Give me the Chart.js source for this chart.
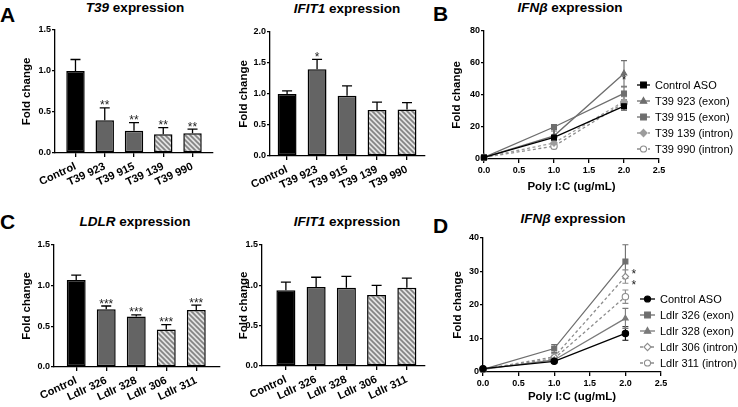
<!DOCTYPE html>
<html>
<head>
<meta charset="utf-8">
<script src="https://cdn.jsdelivr.net/npm/chart.js@4.4.1/dist/chart.umd.min.js"></script>
<style>
  body { margin: 0; background: #fff; }
  #fig { position: relative; width: 738px; height: 407px; overflow: hidden; font-family: "Liberation Sans", Arial, sans-serif; color: #000; }
  canvas { position: absolute; }
  .ttl { position: absolute; font-size: 13.5px; font-weight: bold; line-height: 16px; white-space: nowrap; transform: translateX(-50%); }
  .lt { position: absolute; font-size: 21px; font-weight: bold; line-height: 21px; }
</style>
</head>
<body>
<div id="fig">
  <div class="lt" style="left:0;top:4px">A</div>
  <div class="lt" style="left:433px;top:3px">B</div>
  <div class="lt" style="left:0;top:211px">C</div>
  <div class="lt" style="left:433px;top:215px">D</div>

  <div class="ttl" style="left:135px;top:0"><i>T39</i> expression</div>
  <div class="ttl" style="left:347px;top:1px"><i>IFIT1</i> expression</div>
  <div class="ttl" style="left:570px;top:0"><i>IFNβ</i> expression</div>
  <div class="ttl" style="left:135px;top:214px"><i>LDLR</i> expression</div>
  <div class="ttl" style="left:347px;top:214px"><i>IFIT1</i> expression</div>
  <div class="ttl" style="left:573px;top:211px"><i>IFNβ</i> expression</div>

  <canvas id="a1" width="226" height="190" style="left:0;top:20px"></canvas>
  <canvas id="a2" width="207" height="190" style="left:226px;top:20px"></canvas>
  <canvas id="b" width="293" height="185" style="left:445px;top:20px"></canvas>
  <canvas id="c1" width="226" height="172" style="left:0;top:235px"></canvas>
  <canvas id="c2" width="207" height="172" style="left:226px;top:235px"></canvas>
  <canvas id="d" width="293" height="179" style="left:445px;top:228px"></canvas>
</div>
<script>
// --- A: T39 knockdown ---
const t39Labels = ['Control', 'T39 923', 'T39 915', 'T39 139', 'T39 990'];
const t39Fold = [1.00, 0.40, 0.27, 0.23, 0.24];
const t39FoldErr = [0.14, 0.15, 0.10, 0.08, 0.05];
const t39FoldStars = ['', '**', '**', '**', '**'];
const t39Ifit1 = [1.00, 1.40, 0.97, 0.74, 0.75];
const t39Ifit1Err = [0.05, 0.16, 0.16, 0.13, 0.11];
const t39Ifit1Stars = ['', '*', '', '', ''];

// --- C: LDLR knockdown ---
const ldlrLabels = ['Control', 'Ldlr 326', 'Ldlr 328', 'Ldlr 306', 'Ldlr 311'];
const ldlrFold = [1.07, 0.71, 0.62, 0.46, 0.70];
const ldlrFoldErr = [0.06, 0.04, 0.02, 0.06, 0.06];
const ldlrFoldStars = ['', '***', '***', '***', '***'];
const ldlrIfit1 = [0.94, 0.98, 0.97, 0.88, 0.97];
const ldlrIfit1Err = [0.10, 0.12, 0.14, 0.12, 0.12];
const ldlrIfit1Stars = ['', '', '', '', ''];

// --- B / D: IFNb vs poly I:C ---
const polyIC = [0, 1, 2];

const bNames = ['Control ASO', 'T39 923 (exon)', 'T39 915 (exon)', 'T39 139 (intron)', 'T39 990 (intron)'];
const bValues = [
  [1, 13.5, 33],
  [1, 14.5, 53.5],
  [1, 20, 41],
  [1, 10, 36],
  [1, 8, 35]
];
const bErrors = [
  [0.3, 6, 2.5],
  [0.3, 3, 8],
  [0.3, 1.5, 4],
  [0.3, 2, 3],
  [0.3, 1.5, 4.5]
];
const bStars = [[], [], ['', '', '*'], [], []];
const bStarAt = [[], [], [], [], []];

const dNames = ['Control ASO', 'Ldlr 326 (exon)', 'Ldlr 328 (exon)', 'Ldlr 306 (intron)', 'Ldlr 311 (intron)'];
const dValues = [
  [1, 3.2, 11.5],
  [0.8, 7, 33],
  [0.8, 3.6, 16],
  [0.8, 4.5, 28.5],
  [0.8, 4, 22.5]
];
const dErrors = [
  [0.3, 0.5, 2],
  [0.3, 1.2, 5],
  [0.3, 0.5, 3],
  [0.3, 1, 2],
  [0.3, 1, 2]
];
const dStars = [[], [], [], ['', '', '*'], ['', '', '*']];
const dStarAt = [[], [], [], [null, null, 29.8], [null, null, 26.6]];

Chart.defaults.font.family = '"Liberation Sans", Arial, sans-serif';
Chart.defaults.color = '#000';

function hatch() {
  const c = document.createElement('canvas');
  c.width = 5; c.height = 5;
  const g = c.getContext('2d');
  g.fillStyle = '#e2e2e2';
  g.fillRect(0, 0, 5, 5);
  g.strokeStyle = '#838383';
  g.lineWidth = 1.7;
  g.beginPath();
  g.moveTo(-1, -1); g.lineTo(6, 6);
  g.moveTo(-6, -1); g.lineTo(1, 6);
  g.moveTo(4, -1); g.lineTo(11, 6);
  g.stroke();
  return g.createPattern(c, 'repeat');
}
const stripes = hatch();
const barFills = ['#000', '#646464', '#646464', stripes, stripes];

function marker(ctx, style, x, y, r, fill, stroke) {
  ctx.beginPath();
  if (style === 'rect') {
    ctx.rect(x - r * 0.8, y - r * 0.8, r * 1.6, r * 1.6);
  } else if (style === 'rectRot') {
    ctx.moveTo(x, y - r); ctx.lineTo(x + r, y); ctx.lineTo(x, y + r); ctx.lineTo(x - r, y); ctx.closePath();
  } else if (style === 'triangle') {
    ctx.moveTo(x, y - r); ctx.lineTo(x + r * 0.9, y + r * 0.6); ctx.lineTo(x - r * 0.9, y + r * 0.6); ctx.closePath();
  } else {
    ctx.arc(x, y, r * 0.85, 0, Math.PI * 2);
  }
  ctx.fillStyle = fill; ctx.fill();
  ctx.lineWidth = 1.1; ctx.strokeStyle = stroke; ctx.stroke();
}

// error bars + significance stars
function drawErrors(chart, isLine) {
  const ctx = chart.ctx, ys = chart.scales.y;
  chart.data.datasets.forEach((ds, i) => {
    if (!ds.errors) return;
    const meta = chart.getDatasetMeta(i);
    meta.data.forEach((el, j) => {
      const v = ds.data[j].y, e = ds.errors[j];
      const top = ys.getPixelForValue(v + e);
      const bot = isLine ? ys.getPixelForValue(v - e) : el.y;
      const w = isLine ? 3 : 5;
      ctx.save();
      ctx.strokeStyle = isLine ? ds.borderColor : '#000';
      ctx.lineWidth = isLine ? 1.1 : 1.3;
      ctx.beginPath();
      ctx.moveTo(el.x, bot); ctx.lineTo(el.x, top);
      ctx.moveTo(el.x - w, top); ctx.lineTo(el.x + w, top);
      if (isLine) { ctx.moveTo(el.x - w, bot); ctx.lineTo(el.x + w, bot); }
      ctx.stroke();
      ctx.restore();
    });
  });
}
function drawStars(chart, isLine) {
  const ctx = chart.ctx, ys = chart.scales.y;
  chart.data.datasets.forEach((ds, i) => {
    if (!ds.stars) return;
    const meta = chart.getDatasetMeta(i);
    meta.data.forEach((el, j) => {
      const s = ds.stars[j];
      if (!s) return;
      ctx.save();
      ctx.fillStyle = '#222';
      ctx.font = '12px "Liberation Sans", Arial, sans-serif';
      ctx.textBaseline = 'alphabetic';
      if (ds.starAt && ds.starAt[j] != null) {
        ctx.textAlign = 'left';
        ctx.fillText(s, el.x + 6, ys.getPixelForValue(ds.starAt[j]) + 6);
      } else {
        ctx.textAlign = 'center';
        const top = ys.getPixelForValue(ds.data[j].y + ds.errors[j]);
        ctx.fillText(s, el.x, top + (isLine ? -3 : 1.5));
      }
      ctx.restore();
    });
  });
}
const errorBars = {
  id: 'errorBars',
  beforeDatasetsDraw(chart) {
    if (chart.config.type === 'line') drawErrors(chart, true);
  },
  afterDatasetsDraw(chart) {
    const isLine = chart.config.type === 'line';
    if (!isLine) drawErrors(chart, false);
    drawStars(chart, isLine);
  }
};

const sideLegend = {
  id: 'sideLegend',
  afterDraw(chart, args, o) {
    if (!o || o.x == null) return;
    const ctx = chart.ctx;
    chart.data.datasets.forEach((ds, i) => {
      const y = o.y + i * o.gap;
      ctx.save();
      ctx.strokeStyle = ds.borderColor;
      ctx.lineWidth = 1.3;
      ctx.setLineDash(ds.borderDash || []);
      ctx.beginPath(); ctx.moveTo(o.x, y); ctx.lineTo(o.x + o.len, y); ctx.stroke();
      ctx.setLineDash([]);
      marker(ctx, ds.pointStyle, o.x + o.len / 2, y, 3.6, ds.pointBackgroundColor, ds.borderColor);
      ctx.fillStyle = '#000';
      ctx.font = '11px "Liberation Sans", Arial, sans-serif';
      ctx.textBaseline = 'middle';
      ctx.fillText(ds.label, o.x + o.len + o.tgap, y + 0.5);
      ctx.restore();
    });
  }
};

const axisGrid = { display: true, drawOnChartArea: false, drawTicks: true, tickLength: 3, color: '#000', lineWidth: 1.3 };
const axisBorder = { display: true, color: '#000', width: 1.3 };
const tickFont = { size: 9, weight: 'bold' };
const axisTitleFont = { size: 11.5, weight: 'bold' };

function barPanel(id, labels, vals, errs, stars, yMax, p) {
  return new Chart(document.getElementById(id), {
    type: 'bar',
    data: {
      datasets: [{
        data: vals.map((v, i) => ({ x: i, y: v })),
        errors: errs,
        stars: stars,
        backgroundColor: barFills,
        borderColor: '#000',
        borderWidth: 1.5,
        borderSkipped: false,
        barPercentage: 0.63,
        categoryPercentage: 1
      }]
    },
    options: {
      responsive: false,
      animation: false,
      devicePixelRatio: 1,
      layout: { padding: { top: p.top, right: p.right, left: 0, bottom: 0 } },
      plugins: { legend: { display: false }, tooltip: { enabled: false } },
      scales: {
        x: {
          type: 'linear', min: p.xMin, max: p.xMax, offset: false,
          afterBuildTicks: s => { s.ticks = labels.map((_, i) => ({ value: i })); },
          afterFit: s => { s.height = p.xH; },
          grid: Object.assign({}, axisGrid, { offset: false, tickLength: 4 }),
          border: axisBorder,
          ticks: {
            callback: v => labels[v], autoSkip: false,
            minRotation: 25, maxRotation: 25, padding: 3,
            font: { size: 11, weight: 'bold' }
          }
        },
        y: {
          min: 0, max: yMax,
          afterFit: s => { s.width = p.yW; },
          grid: axisGrid,
          border: axisBorder,
          ticks: { stepSize: 0.5, callback: v => v.toFixed(1), font: tickFont, padding: 1 },
          title: { display: true, text: 'Fold change', font: axisTitleFont, padding: { top: p.tPad, bottom: 0 } }
        }
      }
    },
    plugins: [errorBars]
  });
}

function linePanel(id, names, values, errors, stars, starAt, looks, yMax, yStep, p) {
  const datasets = names.map((name, i) => ({
    label: name,
    data: polyIC.map((x, j) => ({ x: x, y: values[i][j] })),
    errors: errors[i],
    stars: stars[i],
    starAt: starAt[i],
    borderColor: looks[i].c,
    borderWidth: 1.3,
    borderDash: looks[i].dash ? [3, 2.5] : [],
    pointStyle: looks[i].pt,
    pointRadius: looks[i].pt === 'rect' ? 3.5 : 3.2,
    pointBorderWidth: 1.1,
    pointBackgroundColor: looks[i].open ? '#fff' : looks[i].c,
    pointBorderColor: looks[i].c,
    tension: 0,
    fill: false,
    clip: false
  }));
  return new Chart(document.getElementById(id), {
    type: 'line',
    data: { datasets: datasets },
    options: {
      responsive: false,
      animation: false,
      devicePixelRatio: 1,
      layout: { padding: { top: p.top, right: p.right, left: 0, bottom: 0 } },
      plugins: { legend: { display: false }, tooltip: { enabled: false }, sideLegend: p.legend },
      scales: {
        x: {
          type: 'linear', min: 0, max: 2.5,
          afterFit: s => { s.height = p.xH; },
          grid: Object.assign({}, axisGrid, { tickLength: 4 }),
          border: axisBorder,
          ticks: { stepSize: 0.5, callback: v => v.toFixed(1), font: tickFont, padding: 2, maxRotation: 0 },
          title: { display: true, text: 'Poly I:C (ug/mL)', font: axisTitleFont, padding: { top: 0, bottom: p.xtPad } }
        },
        y: {
          min: 0, max: yMax,
          afterFit: s => { s.width = p.yW; },
          grid: axisGrid,
          border: axisBorder,
          ticks: { stepSize: yStep, font: tickFont, padding: 1 },
          title: { display: true, text: 'Fold change', font: axisTitleFont, padding: { top: p.tPad, bottom: 0 } }
        }
      }
    },
    plugins: [errorBars, sideLegend]
  });
}

const bLooks = [
  { c: '#000', pt: 'rect' },
  { c: '#6e6e6e', pt: 'triangle' },
  { c: '#6e6e6e', pt: 'rect' },
  { c: '#9c9c9c', pt: 'rectRot', dash: true },
  { c: '#8c8c8c', pt: 'circle', open: true, dash: true }
];
const dLooks = [
  { c: '#000', pt: 'circle' },
  { c: '#6e6e6e', pt: 'rect' },
  { c: '#7a7a7a', pt: 'triangle' },
  { c: '#8c8c8c', pt: 'rectRot', open: true, dash: true },
  { c: '#8c8c8c', pt: 'circle', open: true, dash: true }
];

barPanel('a1', t39Labels, t39Fold, t39FoldErr, t39FoldStars, 1.5,
  { top: 10, right: 13, yW: 55, xH: 57, xMin: -0.7, xMax: 4.7, tPad: 20 });
barPanel('a2', t39Labels, t39Ifit1, t39Ifit1Err, t39Ifit1Stars, 2.0,
  { top: 12, right: 8, yW: 44, xH: 54, xMin: -0.57, xMax: 4.6, tPad: 11 });
barPanel('c1', ldlrLabels, ldlrFold, ldlrFoldErr, ldlrFoldStars, 1.5,
  { top: 10, right: 6, yW: 54, xH: 40, xMin: -0.74, xMax: 4.79, tPad: 20 });
barPanel('c2', ldlrLabels, ldlrIfit1, ldlrIfit1Err, ldlrIfit1Stars, 1.5,
  { top: 10, right: 8, yW: 36, xH: 41, xMin: -0.79, xMax: 4.6, tPad: 11 });

linePanel('b', bNames, bValues, bErrors, bStars, bStarAt, bLooks, 80, 20,
  { top: 11, right: 79, yW: 39, xH: 46, tPad: 5, xtPad: 11,
    legend: { x: 192, y: 65, gap: 16, len: 13, tgap: 5 } });
linePanel('d', dNames, dValues, dErrors, dStars, dStarAt, dLooks, 40, 10,
  { top: 10, right: 77, yW: 38, xH: 35, tPad: 6, xtPad: 3,
    legend: { x: 195, y: 71, gap: 16, len: 15, tgap: 5 } });
</script>
</body>
</html>
